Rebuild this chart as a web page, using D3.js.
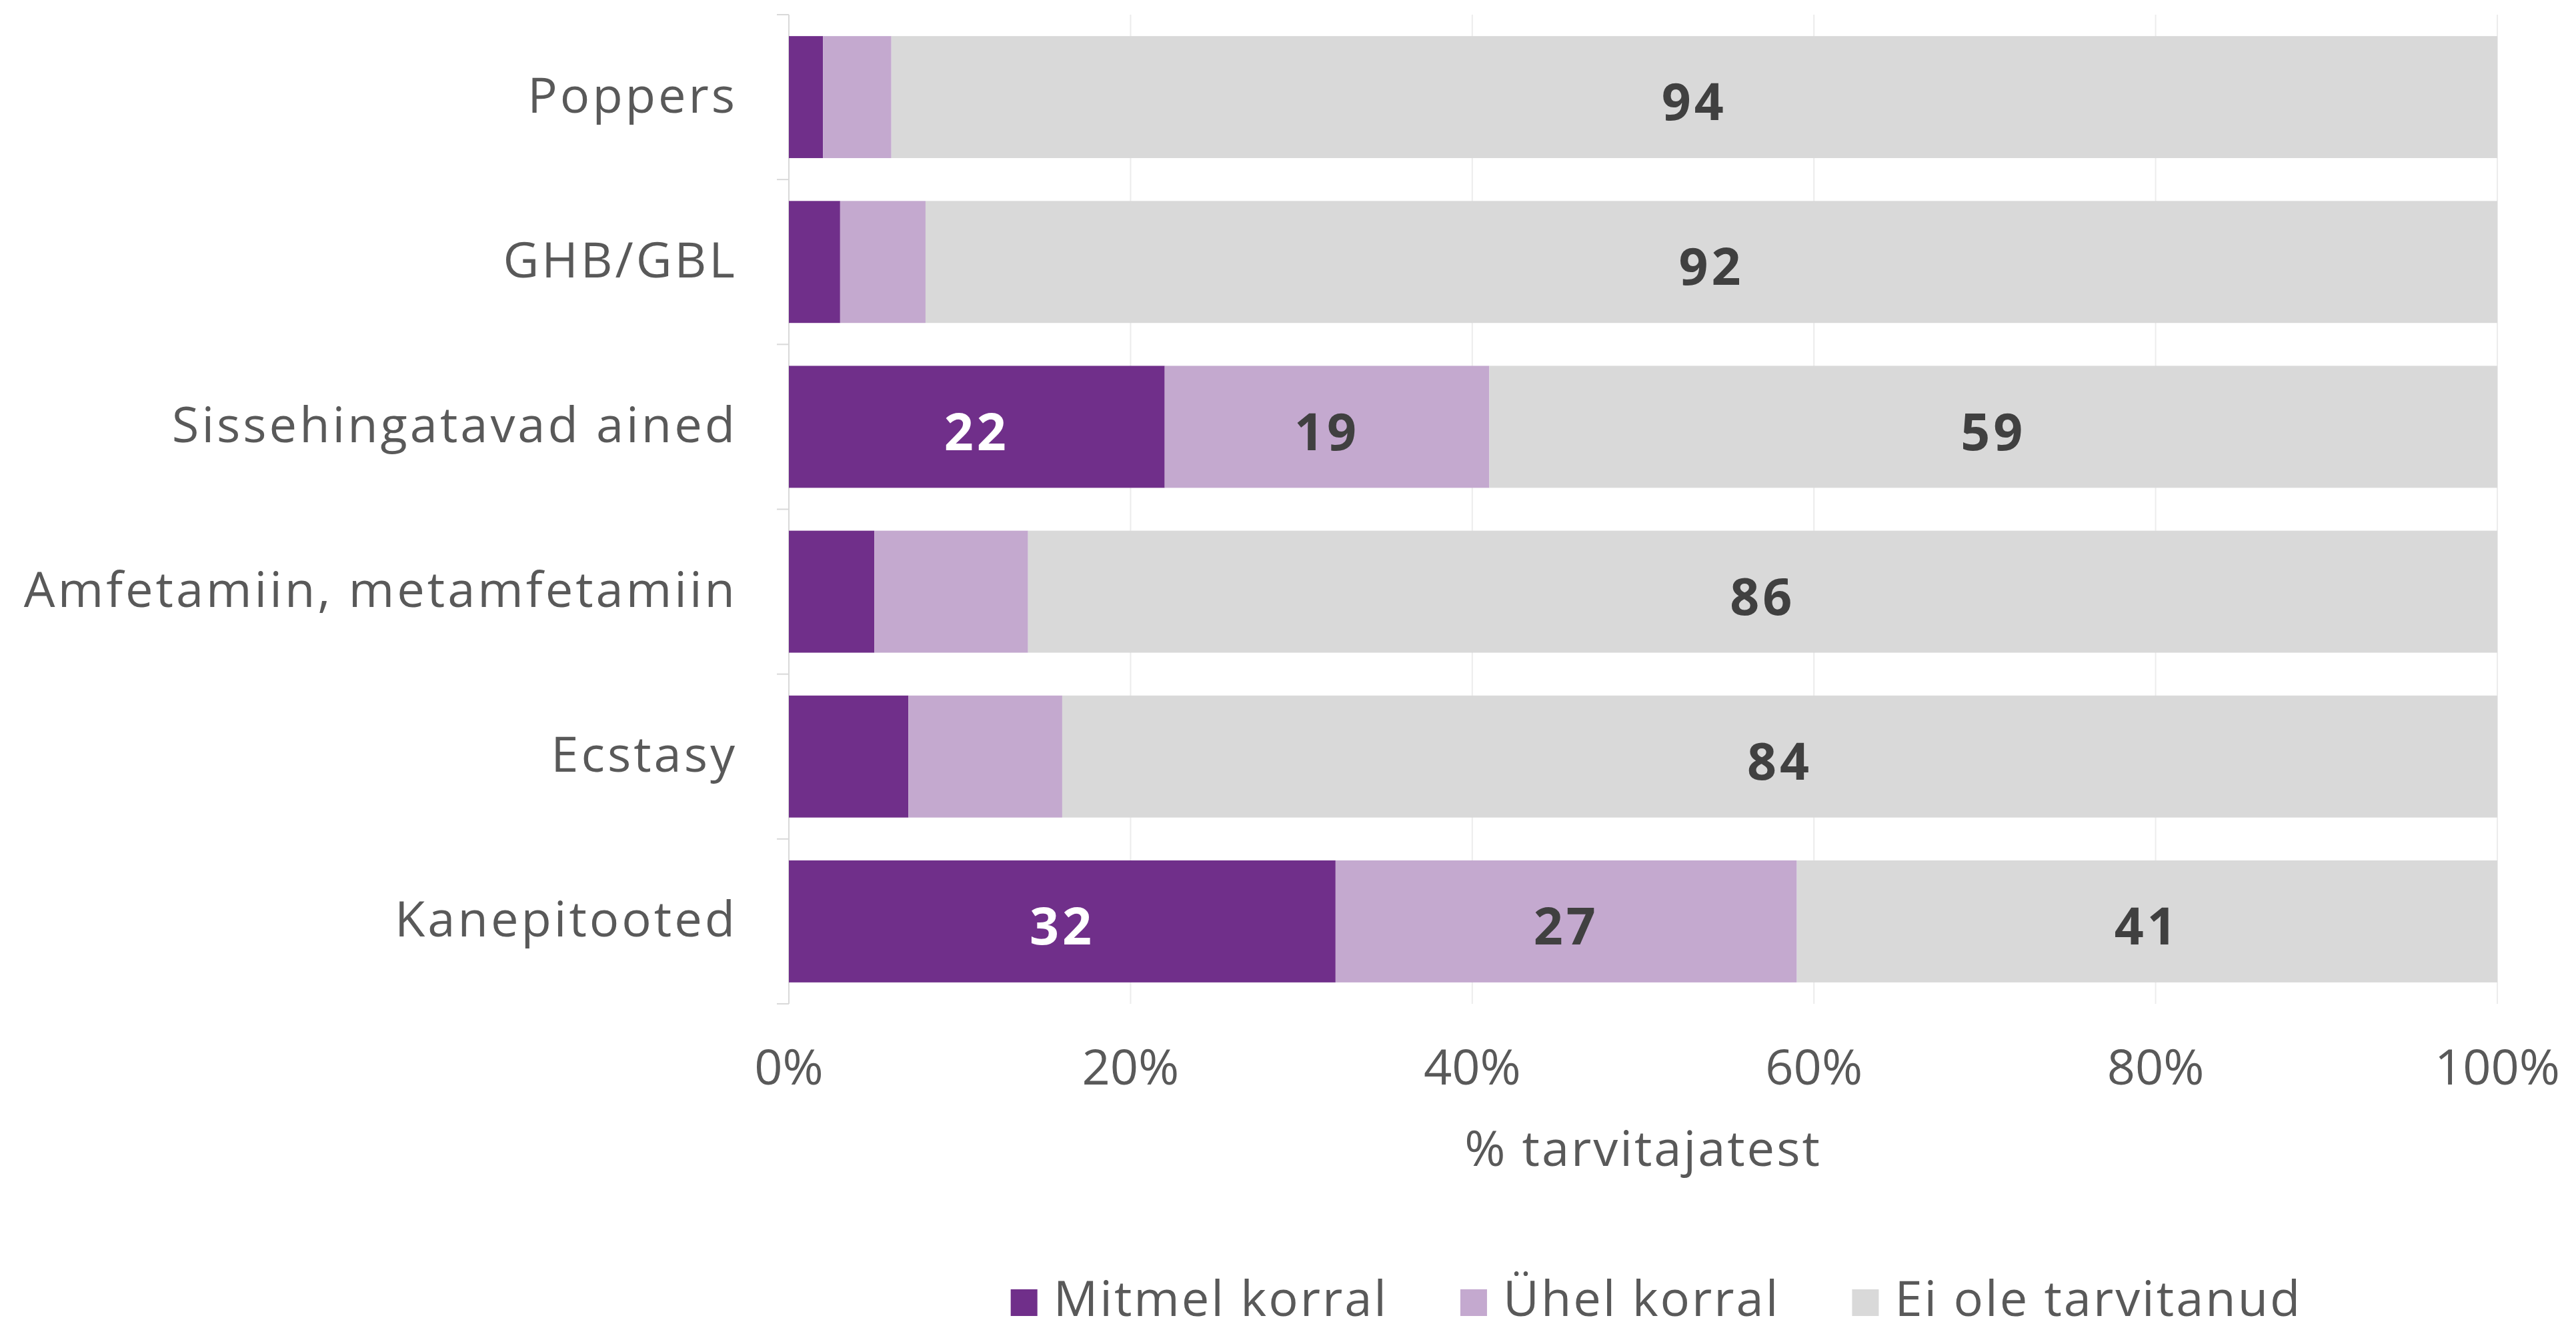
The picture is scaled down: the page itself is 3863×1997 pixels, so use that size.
<!DOCTYPE html>
<html>
<head>
<meta charset="utf-8">
<script src="https://cdn.jsdelivr.net/npm/d3@7"></script>
<style>
  html, body { margin: 0; padding: 0; background: #ffffff; }
  svg { display: block; }
  text { font-family: "Open Sans", "Noto Sans", sans-serif; }
</style>
</head>
<body>
<script>
// ---- data ----
const categories = ["Poppers", "GHB/GBL", "Sissehingatavad ained", "Amfetamiin, metamfetamiin", "Ecstasy", "Kanepitooted"];
const seriesNames = ["Mitmel korral", "Ühel korral", "Ei ole tarvitanud"];
const mitmelKorral = [2, 3, 22, 5, 7, 32];
const uhelKorral = [4, 5, 19, 9, 9, 27];
const eiOleTarvitanud = [94, 92, 59, 86, 84, 41];
const labelShown = [
  [false, false, true, false, false, true],
  [false, false, true, false, false, true],
  [true, true, true, true, true, true]
];
const xTicks = [0, 20, 40, 60, 80, 100];
const xTickLabels = ["0%", "20%", "40%", "60%", "80%", "100%"];
const axisTitle = "% tarvitajatest";

// ---- layout ----
const W = 3863, H = 1997;
const mLeft = 1183, mRight = 3745, mTop = 22, mBottom = 1505;
const colors = ["#702f8a", "#c4a9cf", "#d9d9d9"];
const labelColors = ["#ffffff", "#404040", "#404040"];
const textColor = "#595959";

const svg = d3.select("body").append("svg").attr("width", W).attr("height", H);

const x = d3.scaleLinear().domain([0, 100]).range([mLeft, mRight]);
const y = d3.scaleBand().domain(categories).range([mTop, mBottom]).paddingInner(0.26).paddingOuter(0.13);

const seriesArrays = [mitmelKorral, uhelKorral, eiOleTarvitanud];
const table = categories.map((c, i) => {
  const row = { cat: c };
  seriesNames.forEach((s, k) => row[s] = seriesArrays[k][i]);
  return row;
});
const stack = d3.stack().keys(seriesNames)(table);

// gridlines
svg.append("g").selectAll("line").data(xTicks.slice(1)).join("line")
  .attr("x1", d => x(d)).attr("x2", d => x(d))
  .attr("y1", mTop).attr("y2", mBottom)
  .attr("stroke", "#ececec").attr("stroke-width", 2);

// category axis line + ticks at band boundaries
const bounds = categories.map(c => y(c) - y.step() * y.paddingInner() / 2);
bounds.push(mBottom);
svg.append("line").attr("x1", mLeft).attr("x2", mLeft).attr("y1", mTop).attr("y2", mBottom)
  .attr("stroke", "#d9d9d9").attr("stroke-width", 2);
svg.append("g").selectAll("line").data(bounds).join("line")
  .attr("x1", mLeft - 18).attr("x2", mLeft).attr("y1", d => d).attr("y2", d => d)
  .attr("stroke", "#d9d9d9").attr("stroke-width", 2);

// bars
const groups = svg.append("g").selectAll("g").data(stack).join("g")
  .attr("fill", (d, k) => colors[k]);
groups.selectAll("rect").data(d => d).join("rect")
  .attr("x", d => x(d[0]))
  .attr("width", d => x(d[1]) - x(d[0]))
  .attr("y", d => y(d.data.cat))
  .attr("height", y.bandwidth());

// value labels
stack.forEach((s, k) => {
  svg.append("g").selectAll("text").data(s.filter((d, i) => labelShown[k][i])).join("text")
    .attr("x", d => x((d[0] + d[1]) / 2))
    .attr("y", d => y(d.data.cat) + y.bandwidth() / 2)
    .attr("dy", "0.45em")
    .attr("text-anchor", "middle")
    .attr("font-size", 77)
    .attr("font-weight", 700)
    .attr("letter-spacing", 5)
    .attr("fill", labelColors[k])
    .text(d => d.data[s.key]);
});

// category labels
svg.append("g").selectAll("text").data(categories).join("text")
  .attr("x", 1106)
  .attr("y", d => y(d) + y.bandwidth() / 2)
  .attr("dy", "0.31em")
  .attr("text-anchor", "end")
  .attr("font-size", 74)
  .attr("letter-spacing", 4)
  .attr("fill", textColor)
  .text(d => d);

// x tick labels
svg.append("g").selectAll("text").data(xTicks).join("text")
  .attr("x", d => x(d))
  .attr("y", 1626)
  .attr("text-anchor", "middle")
  .attr("font-size", 74)
  .attr("fill", textColor)
  .text((d, i) => xTickLabels[i]);

// axis title
svg.append("text")
  .attr("x", (mLeft + mRight) / 2)
  .attr("y", 1748)
  .attr("text-anchor", "middle")
  .attr("font-size", 74)
  .attr("letter-spacing", 3)
  .attr("fill", textColor)
  .text(axisTitle);

// legend
const legend = svg.append("g");
const items = legend.selectAll("g").data(seriesNames).join("g");
items.append("rect").attr("width", 40).attr("height", 40).attr("y", 1933)
  .attr("fill", (d, k) => colors[k]);
items.append("text").attr("x", 64).attr("y", 1973)
  .attr("font-size", 74).attr("letter-spacing", 3).attr("fill", textColor).text(d => d);
let widths = [];
items.each(function() { widths.push(this.getBBox().width); });
const gap = 108;
const total = d3.sum(widths) + gap * (widths.length - 1);
let cx = 2484 - total / 2;
items.attr("transform", (d, k) => {
  const t = `translate(${cx},0)`;
  cx += widths[k] + gap;
  return t;
});
</script>
</body>
</html>
